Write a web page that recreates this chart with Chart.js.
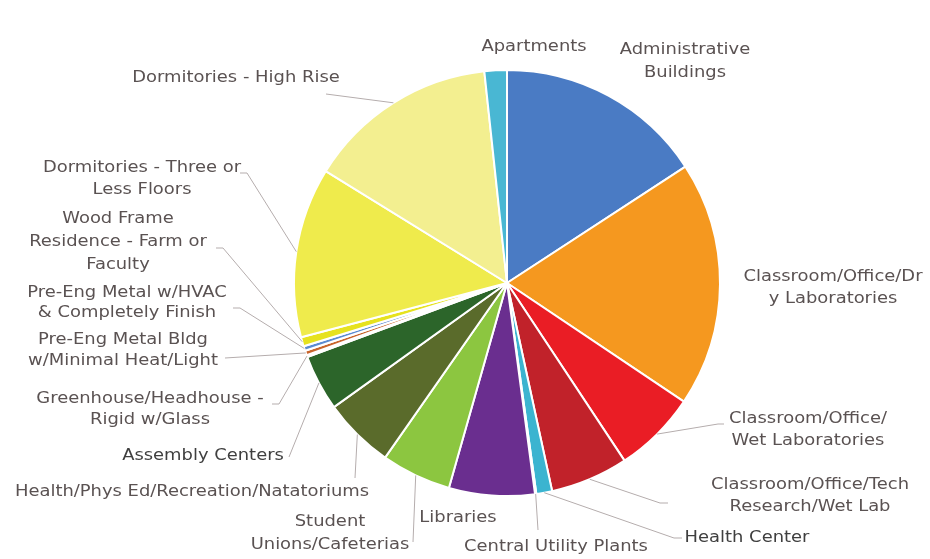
<!DOCTYPE html>
<html>
<head>
<meta charset="utf-8">
<script src="https://cdn.jsdelivr.net/npm/chart.js@4.4.1/dist/chart.umd.min.js"></script>
<style>
  html, body { margin: 0; padding: 0; background: #fff; }
  #wrap { width: 930px; height: 559px; }
</style>
</head>
<body>
<div id="wrap"><canvas id="pie" width="930" height="559"></canvas></div>
<script>
// building categories, clockwise from 12 o'clock
var categories = [
  'Administrative Buildings',
  'Classroom/Office/Dry Laboratories',
  'Classroom/Office/Wet Laboratories',
  'Classroom/Office/Tech Research/Wet Lab',
  'Health Center',
  'Central Utility Plants',
  'Libraries',
  'Student Unions/Cafeterias',
  'Health/Phys Ed/Recreation/Natatoriums',
  'Assembly Centers',
  'Greenhouse/Headhouse - Rigid w/Glass',
  'Pre-Eng Metal Bldg w/Minimal Heat/Light',
  'Pre-Eng Metal w/HVAC & Completely Finish',
  'Wood Frame Residence - Farm or Faculty',
  'Dormitories - Three or Less Floors',
  'Dormitories - High Rise',
  'Apartments'
];

// share of total (%)
var shares = [15.8, 18.6, 6.3, 5.9, 1.2, 0.1, 6.5, 5.3, 5.4, 4.25, 0.15, 0.35, 0.35, 0.7, 12.9, 14.5, 1.7];

var sliceColors = [
  '#4a7bc4', '#f5981f', '#ea1d25', '#c1222a', '#3bb4d0', '#9aa0a8',
  '#6a2e8f', '#8cc640', '#5a6b2b', '#2c652a', '#e6e6e6', '#c8642c',
  '#5b8bd2', '#e6e21f', '#efeb4c', '#f3ef90', '#49b7d3'
];

// label text and where it sits; leader runs from `from` (plus an optional
// horizontal stub) to the slice's outer edge
var labelLayout = [
  { lines: ['Administrative', 'Buildings'], x: 685, y: 50, lh: 23 },
  { lines: ['Classroom/Office/Dr', 'y Laboratories'], x: 833, y: 277, lh: 22 },
  { lines: ['Classroom/Office/', 'Wet Laboratories'], x: 808, y: 419, lh: 22, from: [724, 424], stub: -6 },
  { lines: ['Classroom/Office/Tech', 'Research/Wet Lab'], x: 810, y: 485, lh: 22, from: [668, 503], stub: -8 },
  { lines: ['Health Center'], x: 747, y: 538, lh: 22, from: [682, 538], stub: -8, dark: true },
  { lines: ['Central Utility Plants'], x: 556, y: 547, lh: 22, from: [538, 530] },
  { lines: ['Libraries'], x: 458, y: 518, lh: 22 },
  { lines: ['Student', 'Unions/Cafeterias'], x: 330, y: 522, lh: 23, from: [413, 542] },
  { lines: ['Health/Phys Ed/Recreation/Natatoriums'], x: 192, y: 492, lh: 22, from: [355, 478] },
  { lines: ['Assembly Centers'], x: 203, y: 456, lh: 22, from: [289, 457], dark: true },
  { lines: ['Greenhouse/Headhouse -', 'Rigid w/Glass'], x: 150, y: 399, lh: 21, from: [272, 404], stub: 7 },
  { lines: ['Pre-Eng Metal Bldg', 'w/Minimal Heat/Light'], x: 123, y: 340, lh: 21, from: [225, 358] },
  { lines: ['Pre-Eng Metal w/HVAC', '& Completely Finish'], x: 127, y: 293, lh: 20, from: [233, 308], stub: 7 },
  { lines: ['Wood Frame', 'Residence - Farm or', 'Faculty'], x: 118, y: 219, lh: 23, from: [216, 248], stub: 7 },
  { lines: ['Dormitories - Three or', 'Less Floors'], x: 142, y: 168, lh: 22, from: [240, 173], stub: 7 },
  { lines: ['Dormitories - High Rise'], x: 236, y: 78, lh: 22, from: [326, 94] },
  { lines: ['Apartments'], x: 534, y: 47, lh: 22 }
];

// the label face is a wide geometric sans; stretch DejaVu a little to suit
var textStretch = 1.12;

var pieLabels = {
  id: 'pieLabels',
  afterDraw: function (chart) {
    var ctx = chart.ctx;
    var arcs = chart.getDatasetMeta(0).data;
    ctx.save();
    labelLayout.forEach(function (lab, i) {
      var arc = arcs[i];
      if (lab.from) {
        var p = arc.getProps(['x', 'y', 'startAngle', 'endAngle', 'outerRadius'], true);
        var mid = (p.startAngle + p.endAngle) / 2;
        var ex = p.x + Math.cos(mid) * p.outerRadius;
        var ey = p.y + Math.sin(mid) * p.outerRadius;
        ctx.strokeStyle = '#b5adad';
        ctx.lineWidth = 1;
        ctx.beginPath();
        ctx.moveTo(lab.from[0], lab.from[1]);
        ctx.lineTo(lab.from[0] + (lab.stub || 0), lab.from[1]);
        ctx.lineTo(ex, ey);
        ctx.stroke();
      }
      ctx.fillStyle = lab.dark ? '#3f3f3f' : '#5a5252';
      ctx.font = '16px "DejaVu Sans"';
      ctx.textAlign = 'center';
      ctx.textBaseline = 'middle';
      lab.lines.forEach(function (t, k) {
        ctx.save();
        ctx.translate(lab.x, lab.y + k * lab.lh);
        ctx.scale(textStretch, 1);
        ctx.fillText(t, 0, 0);
        ctx.restore();
      });
    });
    ctx.restore();
  }
};

new Chart(document.getElementById('pie'), {
  type: 'pie',
  data: {
    labels: categories,
    datasets: [{
      data: shares,
      backgroundColor: sliceColors,
      borderColor: '#ffffff',
      borderWidth: 2
    }]
  },
  options: {
    responsive: false,
    animation: false,
    layout: { padding: { top: 69, bottom: 62, left: 293, right: 209 } },
    plugins: {
      legend: { display: false },
      tooltip: { enabled: false }
    }
  },
  plugins: [pieLabels]
});
</script>
</body>
</html>
